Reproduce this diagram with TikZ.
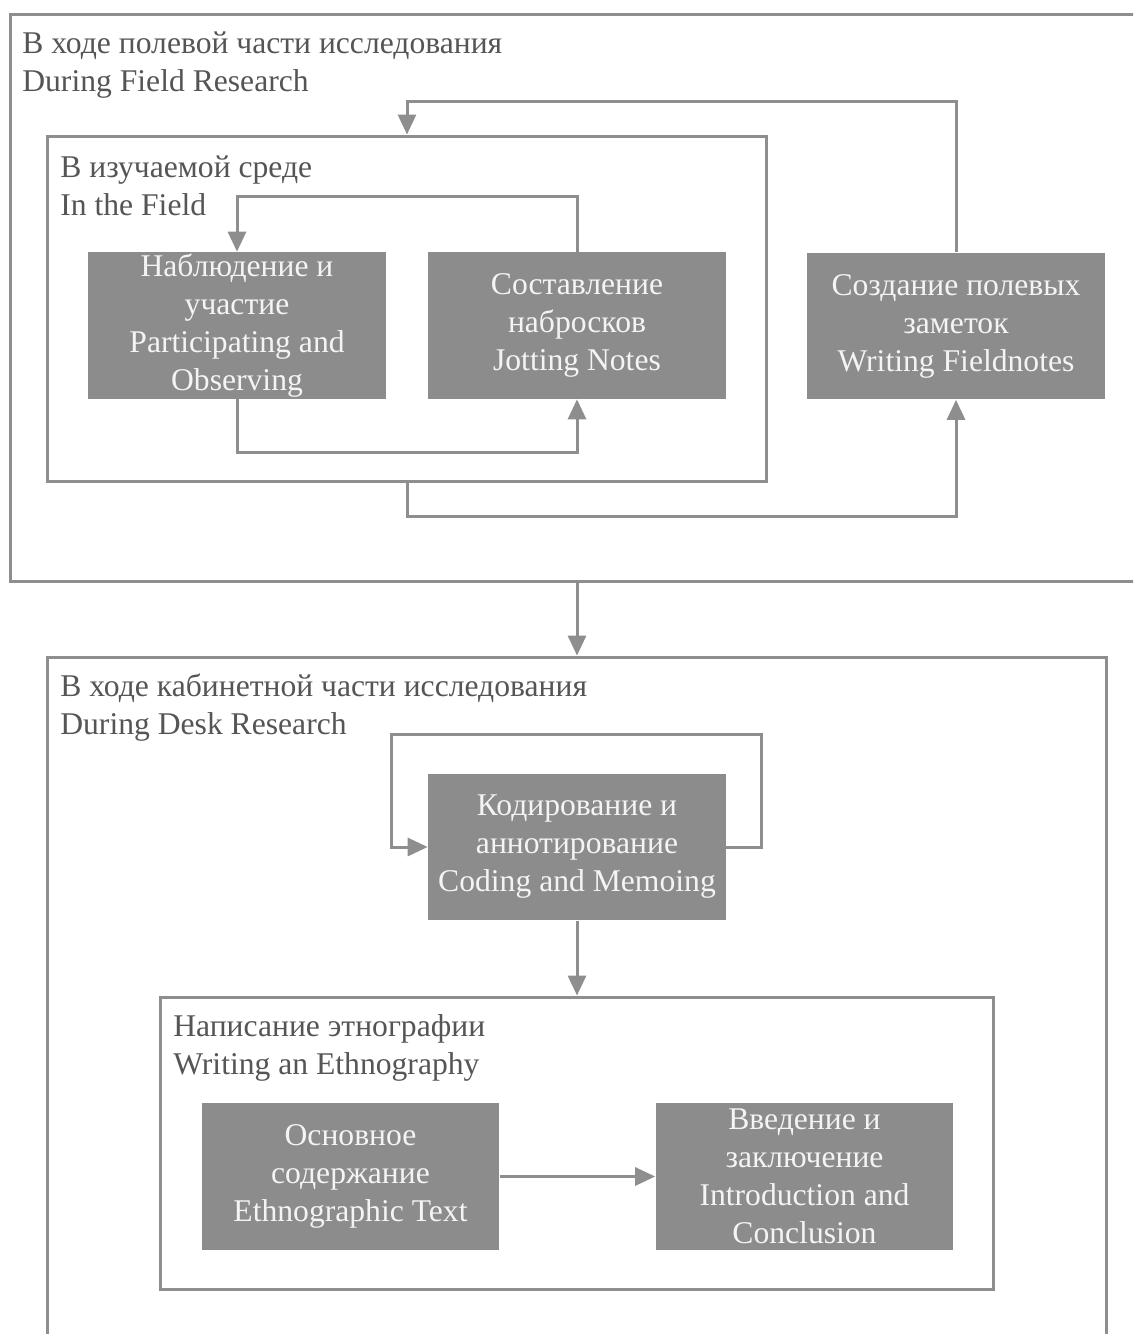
\documentclass[tikz,border=0pt]{standalone}
\usepackage{fontspec}
\setmainfont{Liberation Serif}
\usetikzlibrary{arrows.meta}
\definecolor{boxgray}{HTML}{8C8C8C}
\definecolor{linegray}{HTML}{8E8E8E}
\definecolor{titlegray}{HTML}{555555}
\definecolor{boxtext}{HTML}{F4F4F4}
\tikzset{
  frame/.style={draw=linegray, line width=0.06cm, inner sep=0, fill=none},
  stepbox/.style={fill=boxgray, text=boxtext, inner sep=0, minimum width=5.96cm,
    minimum height=2.94cm, align=center, font=\fontsize{18}{21.6}\selectfont},
  title/.style={anchor=west, align=left, inner sep=0, text=titlegray,
    font=\fontsize{18}{21.6}\selectfont},
  conn/.style={draw=linegray, line width=0.06cm},
  arr/.style={conn, -{Triangle[length=0.4cm,width=0.36cm]}}
}
\begin{document}
\begin{tikzpicture}[x=0.02cm, y=-0.02cm]
\useasboundingbox (0,0) rectangle (1133,1334);
\clip (0,0) rectangle (1133,1334);
\fill[white] (0,0) rectangle (1133,1334);
% frames
\node[frame, minimum width=22.68cm, minimum height=11.36cm] (frame1) at (577,298) {};
\node[frame, minimum width=14.4cm, minimum height=6.92cm] (field) at (407,309) {};
\node[frame, minimum width=21.2cm, minimum height=14.06cm] (desk) at (577,1008.5) {};
\node[frame, minimum width=16.68cm, minimum height=5.86cm] (ethno) at (577,1143.5) {};
% titles
\node[title] (t1) at (22,65) {В ходе полевой части исследования\\During Field Research};
\node[title] (t2) at (60,186) {В изучаемой среде\\In the Field};
\node[title] (t3) at (60,708) {В ходе кабинетной части исследования\\During Desk Research};
\node[title] (t4) at (173,1048) {Написание этнографии\\Writing an Ethnography};
% boxes
\node[stepbox] (A) at (237,325.5) {Наблюдение и\\участие\\Participating and\\Observing};
\node[stepbox] (B) at (577,325.5) {Составление\\набросков\\Jotting Notes};
\node[stepbox] (C) at (956,326) {Создание полевых\\заметок\\Writing Fieldnotes};
\node[stepbox] (D) at (577,847) {Кодирование и\\аннотирование\\Coding and Memoing};
\node[stepbox] (E) at (350.5,1176.5) {Основное\\содержание\\Ethnographic Text};
\node[stepbox] (F) at (804.5,1176.5) {Введение и\\заключение\\Introduction and\\Conclusion};
% connectors
\draw[arr] (B.north) -- ++(0,-55) -| (A.north);
\draw[arr] (A.south) -- ++(0,53) -| (B.south);
\draw[arr] (field.south) -- ++(0,33) -| (C.south);
\draw[arr] (C.north) -- ++(0,-151) -| (field.north);
\draw[arr] (frame1.south) -- (desk.north);
\draw[arr] (D.east) -- ++(35,0) -- ++(0,-113) -- ++(-370,0) -- ++(0,113) -- (D.west);
\draw[arr] (D.south) -- (ethno.north);
\draw[arr] (E.east) -- (F.west);
\end{tikzpicture}
\end{document}
